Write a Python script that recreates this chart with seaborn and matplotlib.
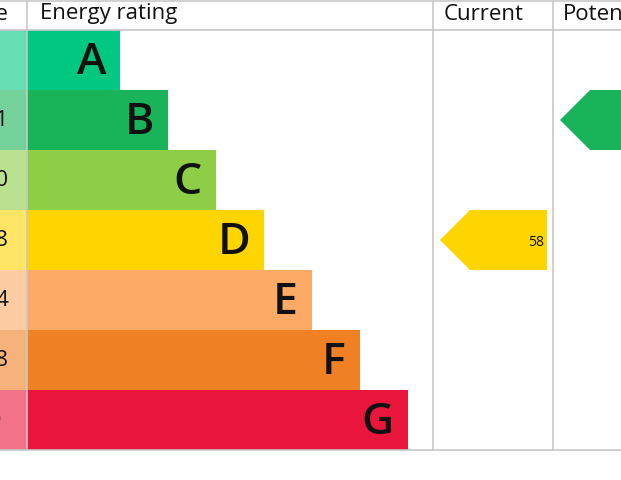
import matplotlib
matplotlib.use("Agg")
import matplotlib.pyplot as plt
import seaborn as sns
from matplotlib.patches import Polygon

sns.set_theme(style="white")
plt.rcParams['font.family'] = ['Open Sans', 'DejaVu Sans']

ratings = ["A", "B", "C", "D", "E", "F", "G"]
scores = ["92+", "81-91", "69-80", "55-68", "39-54", "21-38", "1-20"]
bar_len = [93, 141, 189, 237, 285, 333, 381]
colors = ["#00c781", "#19b459", "#8dce46", "#ffd500", "#fcaa65", "#ef8023", "#e9153b"]
current_value = 58
current_band = "D"
potential_value = 85
potential_band = "B"
headers = ["Score", "Energy rating", "Current", "Potential"]

fig = plt.figure(figsize=(6.21, 4.8), dpi=100)
ax = fig.add_axes([0, 0, 1, 1])
ax.set_xlim(0, 621)
ax.set_ylim(480, 0)
ax.axis("off")

row_h = 60
top = 30
ys = [top + i * row_h + row_h / 2 for i in range(len(ratings))]

ax.barh(ys, [27] * 7, left=0, height=row_h, color=colors, alpha=0.6, linewidth=0)
ax.barh(ys, bar_len, left=27, height=row_h, color=colors, linewidth=0)

for y, r, L, s in zip(ys, ratings, bar_len, scores):
    ax.text(27 + L - 14, y + 2, r, ha="right", va="center", fontsize=32,
            fontweight="semibold", color="#111111")
    ax.text(-20, y, s, ha="center", va="center", fontsize=16, color="#111111")

lc = "#c8c8c8"
ax.plot([0, 621], [1, 1], color=lc, lw=1.2)
ax.plot([0, 621], [30, 30], color=lc, lw=1.2)
ax.plot([0, 621], [450, 450], color=lc, lw=1.2)
for x in [27, 433, 553]:
    ax.plot([x, x], [0, 450], color=lc, lw=1.2)

hs = 16
ax.text(-20, 14, headers[0], ha="center", va="center", fontsize=hs, color="#111111")
ax.text(40, 14, headers[1], ha="left", va="center", fontsize=hs, color="#111111")
ax.text(444, 14, headers[2], ha="left", va="center", fontsize=hs, color="#111111")
ax.text(563, 14, headers[3], ha="left", va="center", fontsize=hs, color="#111111")

def arrow(x0, x1, band, value):
    i = ratings.index(band)
    yc = ys[i]
    pts = [(x0, yc), (x0 + 30, yc - 30), (x1, yc - 30), (x1, yc + 30), (x0 + 30, yc + 30)]
    ax.add_patch(Polygon(pts, closed=True, color=colors[i], lw=0))
    ax.text(x1 - 3, yc + 2, str(value), ha="right", va="center", fontsize=10, color="#111111")

arrow(440, 547, current_band, current_value)
arrow(560, 667, potential_band, potential_value)

fig.savefig("out.png", dpi=100)
